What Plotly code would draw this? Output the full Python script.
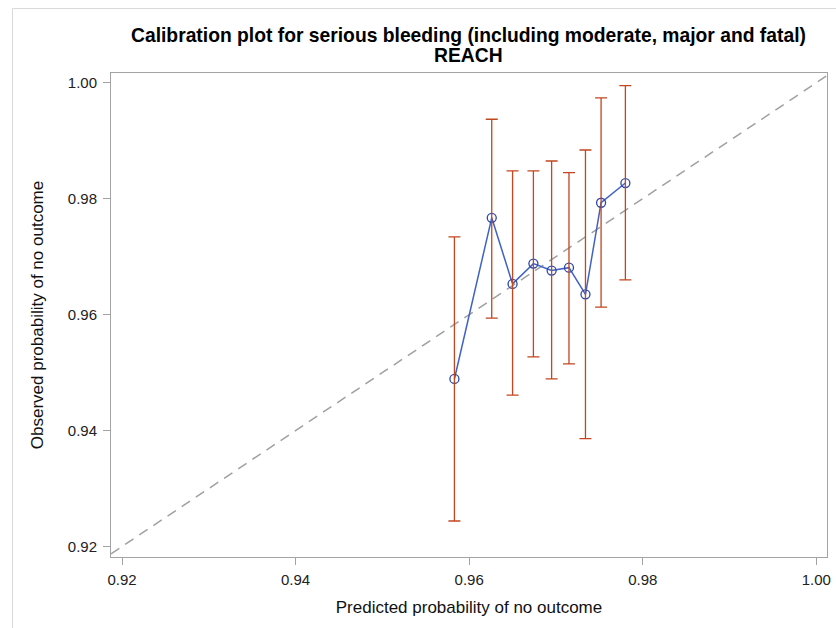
import plotly.graph_objects as go

predicted = [0.9583, 0.9626, 0.9650, 0.9674, 0.9695, 0.9715, 0.9734, 0.9752, 0.9780]
observed = [0.9489, 0.9767, 0.9653, 0.9688, 0.9676, 0.9681, 0.9635, 0.9793, 0.9827]
upper = [0.9734, 0.9937, 0.9848, 0.9848, 0.9865, 0.9845, 0.9884, 0.9974, 0.9995]
lower = [0.9244, 0.9594, 0.9461, 0.9527, 0.9489, 0.9515, 0.9386, 0.9613, 0.9660]
tick_vals = [0.92, 0.94, 0.96, 0.98, 1.00]
tick_text = ["0.92", "0.94", "0.96", "0.98", "1.00"]
x_range = [0.91873, 1.00123]
y_range = [0.91819, 1.00168]
title_line1 = "Calibration plot for serious bleeding (including moderate, major and fatal)"
title_line2 = "REACH"

W, H = 836, 628
PL, PR, PT, PB = 111, 827, 73, 557   # plot frame in page pixels

FONT = "Liberation Sans, Arial, sans-serif"

def fx(px):  # page x pixel -> paper fraction (no margins)
    return px / W

def fy(py):  # page y pixel -> paper fraction
    return 1 - py / H

fig = go.Figure()

# reference diagonal
fig.add_trace(go.Scatter(
    x=[x_range[0], x_range[1]], y=[x_range[0], x_range[1]],
    mode="lines", line=dict(color="#a0a0a0", width=1.5, dash="10px,7px"),
    hoverinfo="skip", showlegend=False))

# calibration line with markers
fig.add_trace(go.Scatter(
    x=predicted, y=observed, mode="lines+markers",
    line=dict(color="#3f62c4", width=1.5),
    marker=dict(symbol="circle-open", size=9, color="#2a48a8", line=dict(width=1.3)),
    showlegend=False))

# error bars
fig.add_trace(go.Scatter(
    x=predicted, y=observed, mode="markers",
    marker=dict(size=1, opacity=0),
    error_y=dict(type="data", symmetric=False,
                 array=[u - o for u, o in zip(upper, observed)],
                 arrayminus=[o - l for o, l in zip(observed, lower)],
                 color="#c2461e", thickness=1.3, width=6),
    showlegend=False))

# outer light frame (top and left edges)
fig.add_shape(type="line", xref="paper", yref="paper",
              x0=fx(12.5), x1=fx(845), y0=fy(8.5), y1=fy(8.5),
              line=dict(color="#d9d9d9", width=1))
fig.add_shape(type="line", xref="paper", yref="paper",
              x0=fx(12.5), x1=fx(12.5), y0=fy(8.5), y1=fy(640),
              line=dict(color="#d9d9d9", width=1))

# two-line title
fig.add_annotation(text="<b>%s</b>" % title_line1, xref="paper", yref="paper",
                   x=fx(468.5), y=fy(35), xanchor="center", yanchor="middle",
                   showarrow=False, font=dict(family=FONT, size=19.3, color="#000000"))
fig.add_annotation(text="<b>%s</b>" % title_line2, xref="paper", yref="paper",
                   x=fx(468.5), y=fy(56), xanchor="center", yanchor="middle",
                   showarrow=False, font=dict(family=FONT, size=19.3, color="#000000"))

axis_common = dict(
    tickvals=tick_vals, ticktext=tick_text,
    showgrid=False, zeroline=False,
    showline=True, linecolor="#a3a3a3", linewidth=1, mirror=True,
    ticks="outside", ticklen=7, tickcolor="#a3a3a3", tickwidth=1,
    tickfont=dict(family=FONT, size=15, color="#222222"),
    automargin=False,
)

fig.update_xaxes(range=x_range, domain=[fx(PL), fx(PR)],
                 title=dict(text="Predicted probability of no outcome",
                            font=dict(family=FONT, size=17, color="#111111"), standoff=14),
                 ticklabelstandoff=2, **axis_common)
fig.update_yaxes(range=y_range, domain=[fy(PB), fy(PT)],
                 title=dict(text="Observed probability of no outcome",
                            font=dict(family=FONT, size=17, color="#111111"), standoff=19),
                 ticklabelstandoff=3, **axis_common)

fig.update_layout(
    width=W, height=H,
    margin=dict(l=0, r=0, t=0, b=0, pad=0),
    paper_bgcolor="white", plot_bgcolor="white",
)

post = (
    "document.body.style.margin='0px';"
    "document.body.style.overflow='hidden';"
    "var gd=document.getElementById('{plot_id}');"
    "Plotly.relayout(gd, {'width': window.innerWidth, 'height': window.innerHeight});"
)

fig.write_html("out.html", config={"displayModeBar": False}, post_script=post)
